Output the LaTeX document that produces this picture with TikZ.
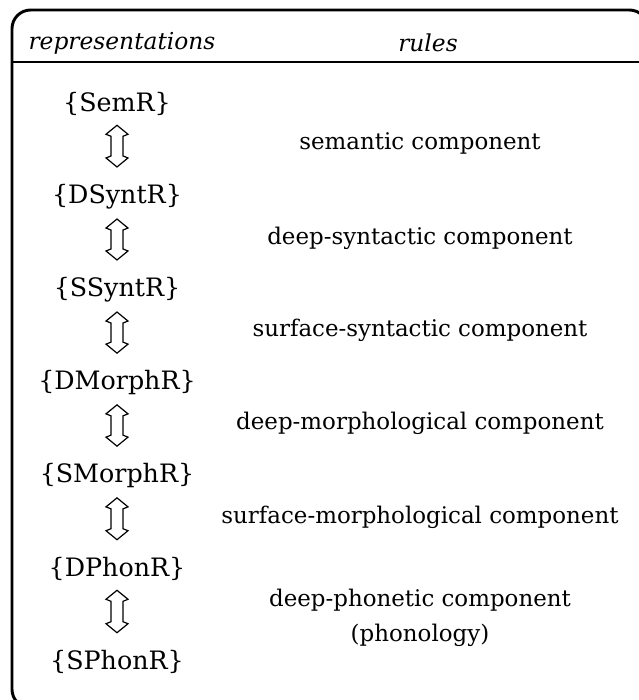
\documentclass[tikz,border=0pt]{standalone}
\usepackage{fontspec}
\setmainfont{DejaVu Serif}
\usetikzlibrary{positioning}
\usetikzlibrary{calc}

\begin{document}
\begin{tikzpicture}[x=0.75pt,y=-0.75pt,
    repr/.style={font=\fontsize{19}{21}\selectfont, inner sep=0pt},
    comp/.style={font=\fontsize{17.2}{26}\selectfont, align=center, inner sep=0pt},
    head/.style={font=\fontsize{17.5}{20}\selectfont\itshape, inner sep=0pt},
    updown/.style={line width=0.9pt, line join=miter, to path={
      let \p1=(\tikztostart), \p2=(\tikztotarget) in
      (\p1) -- ++(11,9) -- ++(-5,2) -- ($(\p2)+(6,-11)$) -- ++(5,2) -- (\p2)
      -- ++(-11,-9) -- ++(5,-2) -- ($(\p1)+(-6,11)$) -- ++(-5,-2) -- cycle}}]
  \useasboundingbox (0,0) rectangle (639,700);

  % frame and header line
  \draw[line width=2.2pt, rounded corners=14] (12,10) rectangle (648,708);
  \draw[line width=1.1pt] (13,62) -- (639,62);

  \node[head] (hrep) at (122,43) {representations};
  \node[head] (hrul) at (428,43) {rules};

  % representations
  \foreach \i/\rep in {1/SemR,2/DSyntR,3/SSyntR,4/DMorphR,5/SMorphR,6/DPhonR,7/SPhonR} {
    \node[repr] (r\i) at (117,{104+93*(\i-1)}) {\{\rep\}};
  }
  \foreach \i [count=\j from 2] in {1,...,6} {
    \draw[updown] ([yshift=-7pt]r\i.south) to ([yshift=13pt]r\j.north);
  }

  % components
  \node[comp] (c1) at (420,143) {semantic component};
  \node[comp] (c2) at (420,238) {deep-syntactic component};
  \node[comp] (c3) at (420,330) {surface-syntactic component};
  \node[comp] (c4) at (420,423) {deep-morphological component};
  \node[comp] (c5) at (420,517) {surface-morphological component};
  \node[comp] (c6) at (420,618) {deep-phonetic component\\(phonology)};
\end{tikzpicture}
\end{document}
